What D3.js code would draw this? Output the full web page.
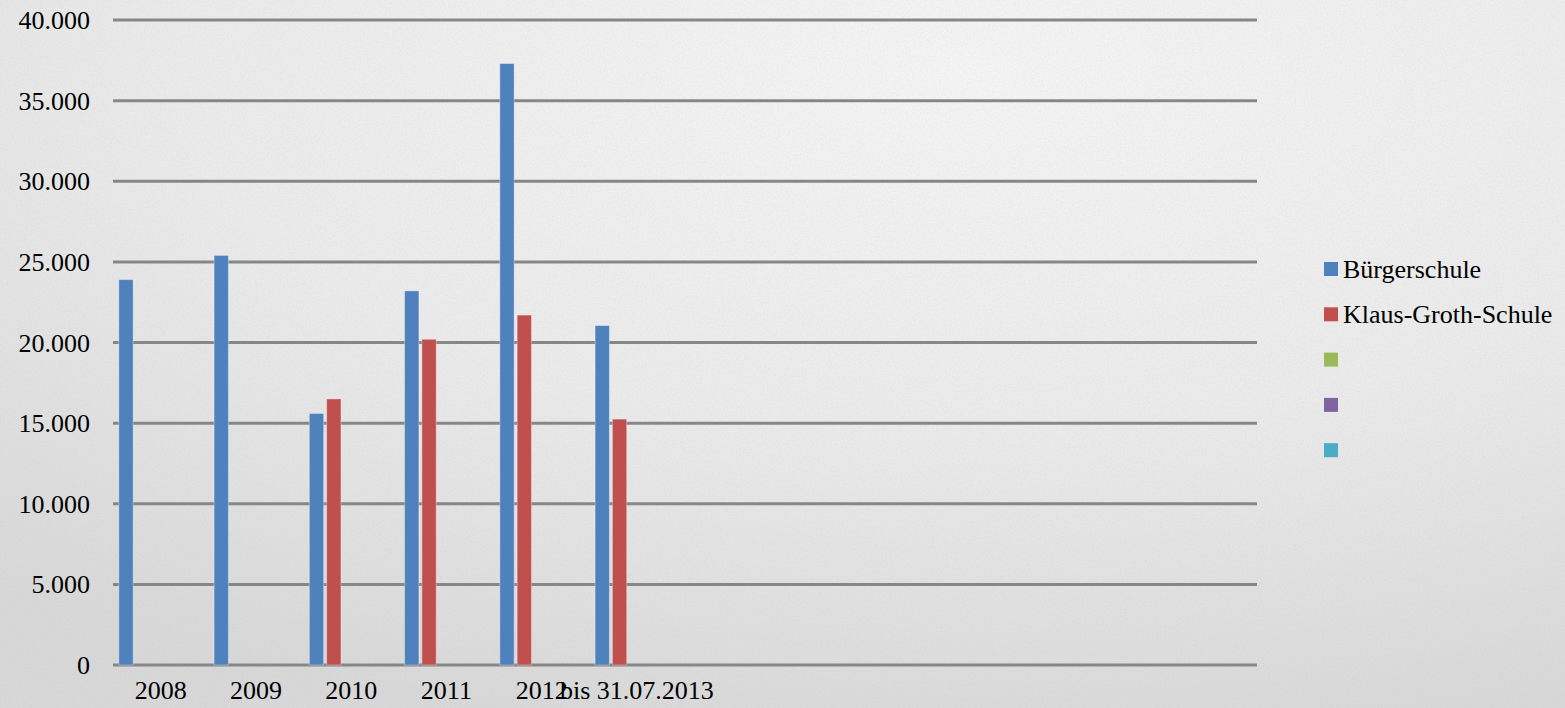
<!DOCTYPE html>
<html>
<head>
<meta charset="utf-8">
<script src="https://cdn.jsdelivr.net/npm/d3@7"></script>
<style>
  html, body { margin: 0; padding: 0; overflow: hidden; background: #ececec; }
</style>
</head>
<body>
<div id="chart"></div>
<script>
// Kategorien (12 Plätze, nur 6 belegt)
const categories = ['2008', '2009', '2010', '2011', '2012', 'bis 31.07.2013', '', '', '', '', '', '']
const seriesNames = ['Bürgerschule', 'Klaus-Groth-Schule', '', '', '']
const seriesColors = ['#4f81bd', '#c0504d', '#9bbb59', '#8064a2', '#4bacc6']

// Werte je Serie
const buergerschule   = [23900, 25400, 15600, 23200, 37300, 21050]
const klausGroth      = [null, null, 16500, 20200, 21700, 15250]
const seriesValues    = [buergerschule, klausGroth, [], [], []]

const yTicks = [0, 5000, 10000, 15000, 20000, 25000, 30000, 35000, 40000]

const width = 1565, height = 708
const de = d3.formatLocale({ decimal: ',', thousands: '.', grouping: [3], currency: ['', '€'] })
const fmt = de.format(',')
const FONT = "'Liberation Serif', 'Times New Roman', serif"

const svg = d3.select('#chart').append('svg')
  .attr('width', width).attr('height', height)

// Hintergrund — heller Papier-Look mit leichter Vignette
const defs = svg.append('defs')
const grad = defs.append('radialGradient')
  .attr('id', 'bg').attr('cx', '62%').attr('cy', '10%').attr('r', '95%')
grad.append('stop').attr('offset', '0%').attr('stop-color', '#f9f9f9')
grad.append('stop').attr('offset', '55%').attr('stop-color', '#eeeeee')
grad.append('stop').attr('offset', '100%').attr('stop-color', '#dadada')

const noise = defs.append('filter').attr('id', 'noise')
  .attr('x', 0).attr('y', 0).attr('width', '100%').attr('height', '100%')
noise.append('feTurbulence').attr('type', 'fractalNoise')
  .attr('baseFrequency', 0.55).attr('numOctaves', 2).attr('seed', 3)
noise.append('feColorMatrix').attr('type', 'matrix')
  .attr('values', '0 0 0 0 0.5  0 0 0 0 0.5  0 0 0 0 0.5  0 0 0 0.22 0')

svg.append('rect').attr('width', width).attr('height', height).attr('fill', 'url(#bg)')
svg.append('rect').attr('width', width).attr('height', height).attr('filter', 'url(#noise)')

// Skalen
const x0 = d3.scaleBand()
  .domain(d3.range(categories.length))
  .range([113, 1256])
  .paddingInner(0).paddingOuter(0)

const x1 = d3.scaleBand()
  .domain(d3.range(seriesNames.length))
  .range([0, x0.bandwidth()])
  .paddingInner(0).paddingOuter(0.25)

const y = d3.scaleLinear().domain([0, 40000]).range([665, 20])

// Gitterlinien
svg.append('g')
  .selectAll('line')
  .data(yTicks)
  .join('line')
  .attr('x1', 113).attr('x2', 1257)
  .attr('y1', d => y(d)).attr('y2', d => y(d))
  .attr('stroke', '#878787')
  .attr('stroke-width', 3)

// Y-Achsenbeschriftung
const yAxis = svg.append('g')
  .attr('transform', 'translate(113,0)')
  .call(d3.axisLeft(y).tickValues(yTicks).tickFormat(fmt).tickSize(0).tickPadding(23))
yAxis.select('.domain').remove()
yAxis.selectAll('.tick text')
  .attr('fill', '#000')
  .attr('font-family', FONT)
  .attr('font-size', 26)
  .attr('dy', '0.33em')

// Balken
const bars = svg.append('g')
seriesValues.forEach((vals, si) => {
  bars.selectAll(null)
    .data(vals.map((v, ci) => ({ v, ci })).filter(d => d.v != null))
    .join('rect')
    .attr('x', d => x0(d.ci) + x1(si) + 1.5)
    .attr('width', x1.bandwidth() - 3)
    .attr('y', d => y(d.v))
    .attr('height', d => y(0) - y(d.v))
    .attr('fill', seriesColors[si])
    .attr('stroke', 'rgba(255,255,255,0.35)')
    .attr('stroke-width', 1)
})

// X-Achse
const xAxis = svg.append('g')
  .attr('transform', 'translate(0,665)')
  .call(d3.axisBottom(x0).tickFormat(i => categories[i]).tickSize(0).tickPadding(16))
xAxis.select('.domain').remove()
xAxis.selectAll('.tick text')
  .attr('fill', '#000')
  .attr('font-family', FONT)
  .attr('font-size', 26)

// Legende
const legend = svg.append('g').attr('transform', 'translate(1324, 269)')
seriesNames.forEach((name, i) => {
  const row = legend.append('g').attr('transform', `translate(0, ${i * 45.3})`)
  row.append('rect')
    .attr('x', 0).attr('y', -7)
    .attr('width', 14).attr('height', 14)
    .attr('fill', seriesColors[i])
  row.append('text')
    .attr('x', 19).attr('y', 0)
    .attr('dy', '0.33em')
    .attr('font-family', FONT)
    .attr('font-size', 26)
    .attr('fill', '#000')
    .text(name)
})
</script>
</body>
</html>
